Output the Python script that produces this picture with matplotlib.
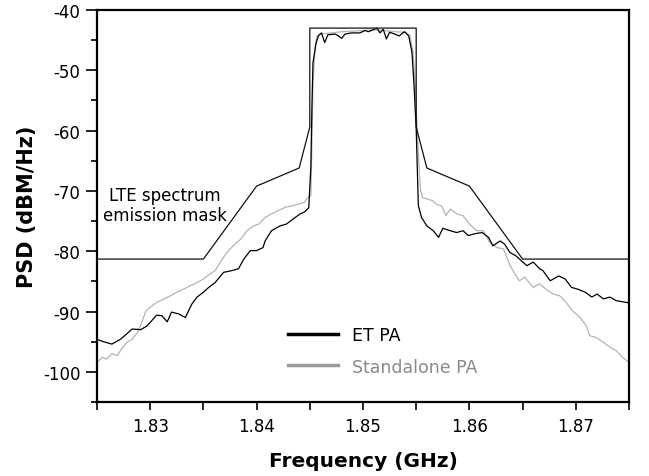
import matplotlib
matplotlib.use("Agg")
import matplotlib.pyplot as plt
from matplotlib.ticker import MultipleLocator, FixedLocator
from matplotlib.lines import Line2D

plt.rcParams['font.family'] = ['DejaVu Sans']

# ---- data ----
mask_f = [1.825, 1.835, 1.840, 1.844, 1.845, 1.845, 1.855, 1.855, 1.856, 1.860, 1.865, 1.875]
mask_db = [-81.3, -81.3, -69.2, -66.2, -59.4, -43.0, -43.0, -59.4, -66.2, -69.2, -81.3, -81.3]

et_f = [1.8250, 1.8256, 1.8264, 1.8272, 1.8278, 1.8283, 1.8291, 1.8297, 1.8306, 1.8311,
        1.8316, 1.8320, 1.8327, 1.8333, 1.8339, 1.8344, 1.8350, 1.8355, 1.8361, 1.8369,
        1.8377, 1.8383, 1.8388, 1.8394, 1.8400, 1.8406, 1.8408, 1.8414, 1.8422, 1.8428,
        1.8434, 1.8441, 1.8445, 1.8449, 1.8451, 1.8452, 1.8453, 1.84558, 1.8458, 1.8461,
        1.8464, 1.8467, 1.8474, 1.8477, 1.8480, 1.8483, 1.8489, 1.8497, 1.8502, 1.8505,
        1.8508, 1.8513, 1.8516, 1.8519, 1.8522, 1.8525, 1.8530, 1.8534, 1.8539, 1.8543,
        1.8546, 1.8548, 1.8550, 1.8552, 1.8555, 1.8560, 1.8566, 1.8571, 1.8575, 1.8582,
        1.8588, 1.8594, 1.8599, 1.8605, 1.8612, 1.8618, 1.8622, 1.8629, 1.8633, 1.8638,
        1.8644, 1.8649, 1.8654, 1.8660, 1.8666, 1.8669, 1.8676, 1.8684, 1.8690, 1.8696,
        1.8702, 1.8709, 1.8715, 1.8720, 1.8726, 1.8732, 1.8738, 1.8748, 1.8750]
et_db = [-94.6, -95.0, -95.4, -94.6, -93.7, -92.9, -93.0, -92.4, -90.6, -90.7,
         -91.7, -90.1, -90.4, -91.0, -88.8, -87.6, -86.8, -86.0, -85.2, -83.5,
         -83.2, -82.9, -81.3, -79.9, -79.9, -79.4, -78.3, -76.6, -75.8, -75.5,
         -74.7, -73.8, -73.5, -72.8, -66.0, -56.0, -48.7, -45.6, -44.3, -43.8,
         -45.4, -44.1, -44.0, -44.3, -44.7, -44.0, -43.8, -43.8, -43.4, -43.6,
         -43.4, -43.0, -43.8, -43.2, -44.8, -43.7, -44.0, -44.3, -43.6, -44.3,
         -47.0, -52.6, -59.7, -72.4, -74.4, -75.8, -76.6, -77.7, -76.2, -76.6,
         -76.9, -76.6, -77.4, -77.1, -76.9, -77.7, -79.1, -78.3, -78.8, -80.2,
         -80.8, -81.6, -82.4, -81.8, -82.9, -83.2, -84.9, -84.1, -84.6, -86.0,
         -86.3, -86.8, -87.6, -87.1, -87.9, -87.6, -88.2, -88.5, -88.6]

sa_f = [1.8250, 1.8255, 1.8259, 1.8264, 1.8269, 1.8273, 1.8278, 1.8283, 1.8288, 1.8292,
        1.8296, 1.8300, 1.8306, 1.8313, 1.8319, 1.8325, 1.8331, 1.8338, 1.8344, 1.8350,
        1.8356, 1.8361, 1.8366, 1.8372, 1.8378, 1.8385, 1.8391, 1.8397, 1.8402, 1.8408,
        1.8414, 1.8420, 1.8427, 1.8433, 1.8439, 1.8445, 1.8447, 1.8451, 1.8452, 1.8453,
        1.8455, 1.8457, 1.8460, 1.8465, 1.8470, 1.8480, 1.8490, 1.8500, 1.8510, 1.8520,
        1.8530, 1.8540, 1.8544, 1.8547, 1.8549, 1.8551, 1.8553, 1.8554, 1.8556, 1.8560,
        1.8565, 1.8569, 1.8574, 1.8578, 1.8582, 1.8588, 1.8594, 1.8600, 1.8607, 1.8613,
        1.8619, 1.8626, 1.8632, 1.8638, 1.8644, 1.8647, 1.8652, 1.8660, 1.8666, 1.8672,
        1.8679, 1.8685, 1.8691, 1.8697, 1.8704, 1.8710, 1.8713, 1.8719, 1.8726, 1.8732,
        1.8738, 1.8744, 1.8748, 1.8750]
sa_db = [-98.4, -97.6, -97.9, -97.0, -97.3, -96.2, -95.1, -94.6, -93.5, -91.8,
         -89.9, -89.3, -88.5, -87.9, -87.4, -86.8, -86.3, -85.7, -85.2, -84.6,
         -83.8, -83.2, -81.8, -80.2, -79.1, -78.0, -76.6, -75.8, -75.5, -74.4,
         -73.8, -73.3, -72.7, -72.5, -72.2, -71.9, -71.3, -70.8, -62.0, -52.0,
         -46.0, -44.3, -43.9, -43.9, -43.8, -43.6, -43.5, -43.4, -43.3, -43.4,
         -43.6, -43.7, -44.2, -47.0, -52.0, -60.0, -67.0, -69.7, -71.1, -71.3,
         -71.6, -72.2, -72.5, -74.1, -73.0, -73.8, -74.1, -75.5, -76.6, -76.6,
         -78.5, -79.4, -79.6, -82.3, -84.1, -84.9, -84.3, -86.0, -85.4, -86.3,
         -87.1, -87.4, -88.5, -89.9, -91.0, -92.4, -94.0, -94.3, -95.1, -95.9,
         -96.5, -97.6, -98.2, -98.3]

x_ticks = [1.83, 1.84, 1.85, 1.86, 1.87]
y_ticks = [-100, -90, -80, -70, -60, -50, -40]

# ---- figure ----
W, H = 649, 477
fig = plt.figure(figsize=(W/100, H/100), dpi=100)
ax = fig.add_axes([97/W, 1 - 403/H, (629-97)/W, (403-11)/H])

gray_line = '#b4b4b4'
ax.plot(sa_f, sa_db, color=gray_line, lw=0.9)
ax.plot(et_f, et_db, color='black', lw=0.9)
ax.plot(mask_f, mask_db, color='#111111', lw=0.9)

ax.set_xlim(1.825, 1.875)
ax.set_ylim(-105, -40)

ax.xaxis.set_major_locator(FixedLocator(x_ticks))
ax.xaxis.set_minor_locator(MultipleLocator(0.005))
ax.yaxis.set_major_locator(FixedLocator(y_ticks))
ax.yaxis.set_minor_locator(MultipleLocator(5))
ax.set_xticklabels([f"{v:.2f}" for v in x_ticks])
ax.set_yticklabels([str(v) for v in y_ticks])

ax.tick_params(axis='x', which='both', direction='out', length=6, width=1.2, labelsize=12, pad=5)
ax.tick_params(axis='y', which='major', direction='out', length=8, width=1.2, labelsize=12, pad=4)
ax.tick_params(axis='y', which='minor', direction='out', length=4, width=1.2)
ax.tick_params(top=False, right=False, which='both')
for s in ax.spines.values():
    s.set_linewidth(1.6)

ax.set_xlabel('Frequency (GHz)', fontsize=14.5, fontweight='bold', labelpad=11)
ax.set_ylabel('PSD (dBM/Hz)', fontsize=15, fontweight='bold', labelpad=4)

ax.text(165/W, 1 - 206/H, 'LTE spectrum\nemission mask', transform=fig.transFigure,
        fontsize=12, ha='center', va='center', linespacing=1.15)

handles = [Line2D([], [], color='black', lw=2.5), Line2D([], [], color='#9a9a9a', lw=2.5)]
leg = ax.legend(handles, ['ET PA', 'Standalone PA'], loc='center left',
                bbox_to_anchor=((288-97)/532, (403-352)/392), frameon=False,
                fontsize=12.5, handlelength=2.9, handletextpad=0.8, labelspacing=0.75,
                borderpad=0, borderaxespad=0)
leg.get_texts()[1].set_color('#8a8a8a')

fig.savefig('out.png', dpi=100)
